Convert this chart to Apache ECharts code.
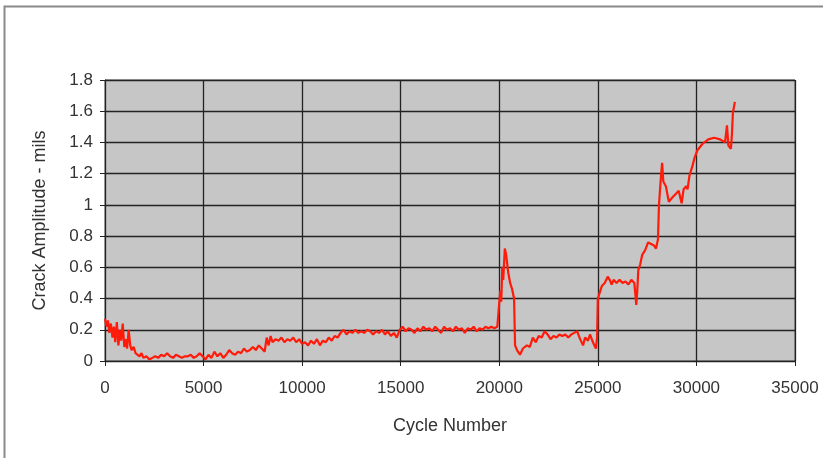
<!DOCTYPE html>
<html>
<head>
<meta charset="utf-8">
<script src="https://cdn.jsdelivr.net/npm/echarts@6/dist/echarts.min.js"></script>
<style>
  html, body { margin: 0; padding: 0; background: #fff; }
  #main { width: 823px; height: 458px; }
</style>
</head>
<body>
<div id="main"></div>
<script>
// axis ticks
var xTicks = [0, 5000, 10000, 15000, 20000, 25000, 30000, 35000];
var yTicks = [0, 0.2, 0.4, 0.6, 0.8, 1, 1.2, 1.4, 1.6, 1.8];

// cycle number / crack amplitude (mils)
var startPhase = [
  [0,0.27],[80,0.22],[150,0.26],[220,0.18],[300,0.24],[380,0.15],[450,0.22],[520,0.12],
  [600,0.25],[680,0.1],[750,0.2],[820,0.13],[900,0.24],[980,0.09],[1050,0.14],[1120,0.08],
  [1200,0.2],[1280,0.1],[1350,0.07],[1450,0.09],[1550,0.05],[1650,0.06],[1750,0.03],
  [1850,0.05],[1950,0.02],[2100,0.03],[2250,0.01],[2400,0.02],[2550,0.03],[2700,0.02],
  [2850,0.04],[3000,0.03],[3150,0.05],[3300,0.03],[3450,0.02],[3600,0.04],[3750,0.03],
  [3900,0.02],[4050,0.03],[4200,0.03],[4350,0.04],[4500,0.02],[4650,0.03],[4800,0.05],
  [4950,0.03],[5100,0.01],[5250,0.04],[5400,0.02],[5550,0.06],[5700,0.03],[5850,0.05],
  [6000,0.02],[6150,0.04],[6300,0.07],[6450,0.05],[6600,0.04],[6750,0.06],[6900,0.05],
  [7050,0.08],[7200,0.06],[7350,0.07],[7500,0.09],[7650,0.07],[7800,0.1],[7950,0.08],
  [8100,0.06],[8200,0.15],[8300,0.1],[8400,0.16],[8500,0.12],[8650,0.14],[8800,0.13],
  [8950,0.15],[9100,0.12],[9250,0.14],[9400,0.13],[9550,0.15],[9700,0.12],[9850,0.14],
  [10000,0.11]
];
var midPhase = [
  [10150,0.12],[10300,0.1],[10450,0.13],[10600,0.11],[10750,0.14],[10900,0.1],[11050,0.13],
  [11200,0.12],[11350,0.15],[11500,0.13],[11650,0.16],[11800,0.15],[11950,0.18],[12100,0.2],
  [12250,0.17],[12400,0.19],[12550,0.18],[12700,0.2],[12850,0.18],[13000,0.19],[13150,0.18],
  [13300,0.2],[13450,0.19],[13600,0.17],[13750,0.19],[13900,0.18],[14050,0.2],[14200,0.17],
  [14350,0.19],[14500,0.16],[14650,0.18],[14800,0.15],[14950,0.2],[15100,0.22],[15250,0.19],
  [15400,0.21],[15550,0.2],[15700,0.18],[15850,0.21],[16000,0.19],[16150,0.22],[16300,0.2],
  [16450,0.21],[16600,0.19],[16750,0.22],[16900,0.2],[17050,0.18],[17200,0.22],[17350,0.2],
  [17500,0.21],[17650,0.19],[17800,0.22],[17950,0.2],[18100,0.21],[18250,0.18],[18400,0.21],
  [18550,0.2],[18700,0.22],[18850,0.19],[19000,0.21],[19150,0.2],[19300,0.22],[19450,0.21],
  [19600,0.22],[19750,0.21],[19900,0.22],[20000,0.23]
];
var spikePhase = [
  [20050,0.45],[20100,0.38],[20150,0.6],[20200,0.52],[20280,0.72],[20350,0.68],[20450,0.57],
  [20550,0.5],[20650,0.46],[20750,0.4],[20800,0.1],[20900,0.07],[21050,0.04],[21200,0.08],
  [21400,0.1],[21550,0.09],[21700,0.15],[21850,0.12],[22000,0.16],[22150,0.15],[22300,0.19],
  [22450,0.17],[22600,0.14],[22750,0.16],[22900,0.15],[23050,0.17],[23200,0.16],[23350,0.17],
  [23500,0.15],[23650,0.17],[23800,0.18],[23950,0.19],[24100,0.14],[24250,0.1],[24350,0.15],
  [24500,0.13],[24600,0.17],[24750,0.12],[24900,0.08],[24960,0.15],[25000,0.4]
];
var endPhase = [
  [25050,0.42],[25200,0.48],[25350,0.5],[25500,0.54],[25600,0.52],[25700,0.49],[25800,0.52],
  [25950,0.5],[26100,0.52],[26250,0.5],[26400,0.51],[26550,0.49],[26700,0.52],[26850,0.5],
  [26950,0.36],[27000,0.45],[27050,0.58],[27150,0.62],[27250,0.68],[27400,0.71],[27550,0.76],
  [27700,0.75],[27850,0.74],[27950,0.72],[28050,0.78],[28100,1.0],[28200,1.18],[28260,1.27],
  [28320,1.15],[28450,1.12],[28600,1.02],[28800,1.05],[28950,1.07],[29100,1.09],[29250,1.01],
  [29350,1.1],[29480,1.12],[29550,1.1],[29650,1.19],[29800,1.25],[29900,1.3],[30050,1.35],
  [30300,1.39],[30600,1.42],[30900,1.43],[31200,1.42],[31450,1.4],[31550,1.51],[31620,1.38],
  [31750,1.36],[31800,1.45],[31850,1.59],[31950,1.66]
];

var crack = startPhase.concat(midPhase, spikePhase, endPhase);

var myChart = echarts.init(document.getElementById('main'));
var font = 'Liberation Sans, Arial, sans-serif';

myChart.setOption({
  animation: false,
  graphic: [{
    type: 'rect',
    shape: { x: 4.5, y: 6.5, width: 900, height: 500 },
    style: { fill: 'none', stroke: '#8a8a8a', lineWidth: 2 },
    z: -1
  }],
  grid: {
    left: 105, right: 28, top: 80, bottom: 97,
    show: true,
    backgroundColor: '#c6c6c6',
    borderColor: '#555',
    borderWidth: 1
  },
  xAxis: {
    type: 'value',
    min: xTicks[0], max: xTicks[xTicks.length - 1], interval: 5000,
    name: 'Cycle Number',
    nameLocation: 'middle',
    nameGap: 56,
    nameTextStyle: { fontFamily: font, fontSize: 18, color: '#333' },
    axisLine: { lineStyle: { color: '#222', width: 1 } },
    axisTick: { show: true, length: 5, lineStyle: { color: '#222' } },
    axisLabel: {
      fontFamily: font, fontSize: 17, color: '#333', margin: 19,
      formatter: function (v) { return String(v); }
    },
    splitLine: { lineStyle: { color: '#222', width: 1.3 } }
  },
  yAxis: {
    type: 'value',
    min: yTicks[0], max: yTicks[yTicks.length - 1], interval: 0.2,
    name: 'Crack Amplitude - mils',
    nameLocation: 'middle',
    nameGap: 56,
    nameTextStyle: { fontFamily: font, fontSize: 18, color: '#333' },
    axisLine: { show: true, lineStyle: { color: '#222', width: 1 } },
    axisTick: { show: true, length: 5, lineStyle: { color: '#222' } },
    axisLabel: { fontFamily: font, fontSize: 17, color: '#333', margin: 12 },
    splitLine: { lineStyle: { color: '#222', width: 1.3 } }
  },
  series: [{
    type: 'line',
    data: crack,
    showSymbol: false,
    lineStyle: { color: '#ff1a0a', width: 2.2 },
    z: 3
  }]
});
</script>
</body>
</html>
